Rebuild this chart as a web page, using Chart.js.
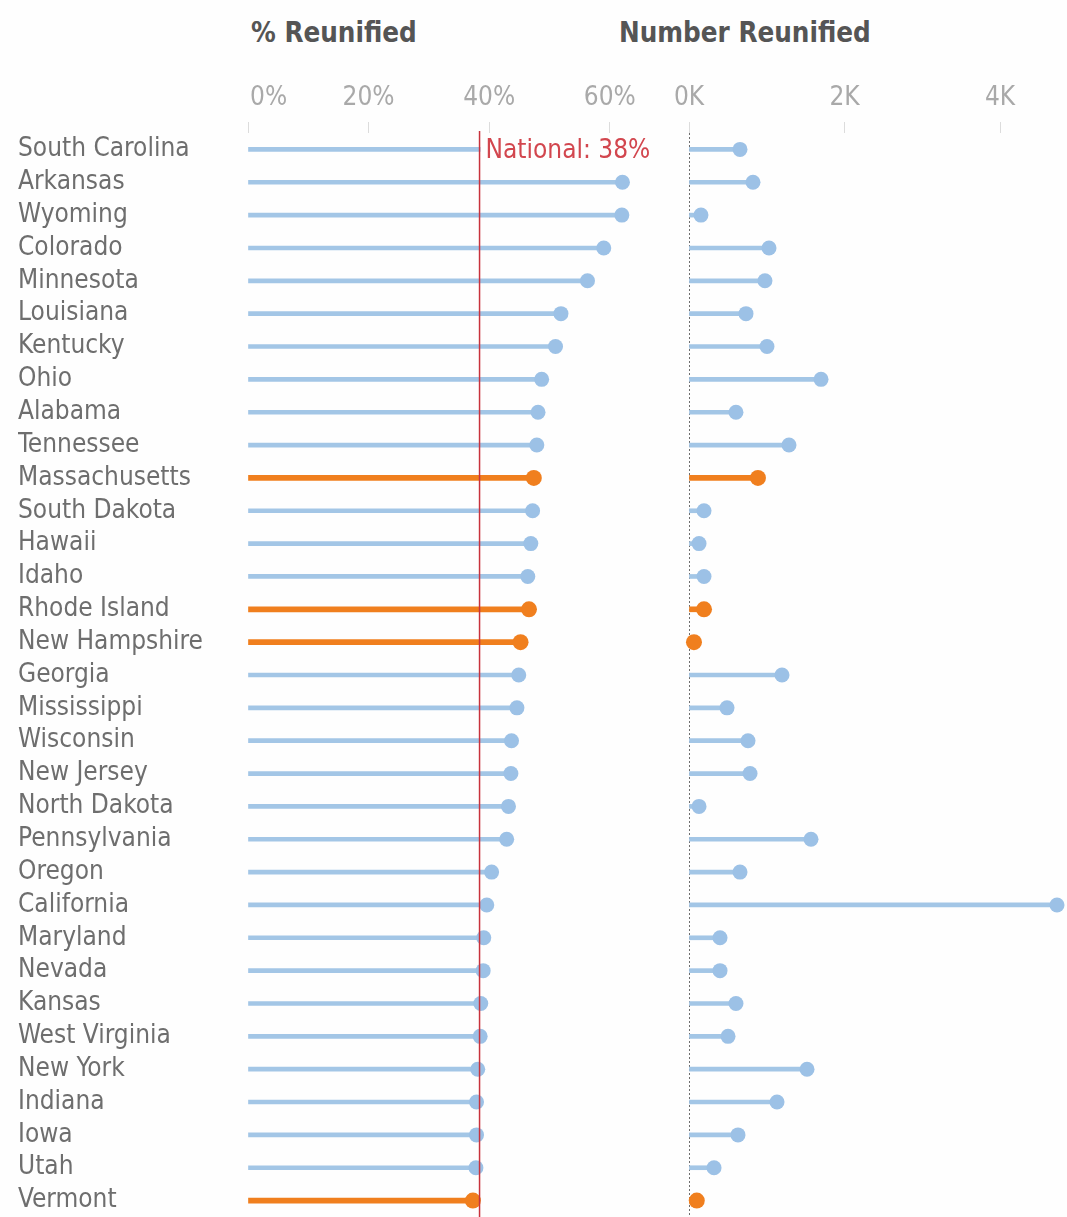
<!DOCTYPE html>
<html>
<head>
<meta charset="utf-8">
<script src="https://cdn.jsdelivr.net/npm/chart.js@4.4.1/dist/chart.umd.min.js"></script>
<style>
  html, body { margin: 0; padding: 0; background: #fefefe; }
  #wrap { position: relative; width: 1067px; height: 1217px; overflow: hidden; background: #fefefe; }
  .box { position: absolute; top: 0; height: 1217px; }
  #b1 { left: 0; width: 660px; }
  #b2 { left: 660px; width: 407px; }
  .title { position: absolute; top: 16px; font-family: 'DejaVu Sans Condensed', 'Liberation Sans Narrow', 'Liberation Sans', sans-serif; font-weight: bold; font-size: 27.5px; color: #555; white-space: nowrap; }
</style>
</head>
<body>
<div id="wrap">
  <div class="title" style="left:251px">% Reunified</div>
  <div class="title" style="left:619px">Number Reunified</div>
  <div class="box" id="b1"><canvas id="c1"></canvas></div>
  <div class="box" id="b2"><canvas id="c2"></canvas></div>
</div>
<script>
const STATES = ["South Carolina","Arkansas","Wyoming","Colorado","Minnesota","Louisiana","Kentucky","Ohio","Alabama","Tennessee","Massachusetts","South Dakota","Hawaii","Idaho","Rhode Island","New Hampshire","Georgia","Mississippi","Wisconsin","New Jersey","North Dakota","Pennsylvania","Oregon","California","Maryland","Nevada","Kansas","West Virginia","New York","Indiana","Iowa","Utah","Vermont"];
const PCT_REUNIFIED = [63.5,62.1,62.0,59.0,56.3,51.9,51.0,48.7,48.1,47.9,47.4,47.2,46.9,46.4,46.6,45.2,44.9,44.6,43.7,43.6,43.2,42.9,40.4,39.6,39.1,39.0,38.6,38.5,38.1,37.9,37.9,37.8,37.3];
const NUM_REUNIFIED = [656,823,154,1029,977,733,1003,1698,604,1286,887,193,129,193,193,64,1196,489,759,785,129,1569,656,4733,399,399,604,502,1518,1132,630,322,100];
const HIGHLIGHTED = ["Massachusetts","Rhode Island","New Hampshire","Vermont"];
const NATIONAL_PCT = 38.4;
const NATIONAL_LABEL = "National: 38%";
const PCT_TICKS = [0,20,40,60];
const PCT_TICK_LABELS = ["0%","20%","40%","60%"];
const NUM_TICKS = [0,2000,4000];
const NUM_TICK_LABELS = ["0K","2K","4K"];

const BLUE = '#a3c6e6';
const BLUE_DOT = '#9cc1e6';
const ORANGE = '#f07f1e';
const RED = '#c8323c';
const NARROW = "'DejaVu Sans Condensed', 'Liberation Sans Narrow', 'Liberation Sans', sans-serif";

const isHi = STATES.map(s => HIGHLIGHTED.includes(s));

function datasets(values) {
  return [
    {
      type: 'line', data: values, showLine: false, order: 0, clip: false,
      pointRadius: isHi.map(h => h ? 8 : 7.5),
      pointHoverRadius: isHi.map(h => h ? 8 : 7.5),
      pointBackgroundColor: isHi.map(h => h ? ORANGE : BLUE_DOT),
      pointBorderWidth: 0
    },
    {
      type: 'bar', data: values.map((v, i) => isHi[i] ? null : v), order: 1,
      backgroundColor: BLUE, barThickness: 4, grouped: false, borderSkipped: false
    },
    {
      type: 'bar', data: values.map((v, i) => isHi[i] ? v : null), order: 1,
      backgroundColor: ORANGE, barThickness: 5, grouped: false, borderSkipped: false
    }
  ];
}

function xLabelPlugin(labels, shiftFirst) {
  return {
    id: 'xLabels',
    afterDraw(chart) {
      const sc = chart.scales.x, ctx = chart.ctx;
      ctx.save();
      ctx.font = '26px ' + NARROW;
      ctx.fillStyle = '#a9a9a9';
      ctx.textBaseline = 'middle';
      sc.ticks.forEach((t, i) => {
        const x = sc.getPixelForValue(t.value);
        const txt = labels[i];
        const w = ctx.measureText(txt).width;
        if (shiftFirst && x - w / 2 < chart.chartArea.left - 4) {
          ctx.textAlign = 'left';
          ctx.fillText(txt, x + 2, 98);
        } else {
          ctx.textAlign = 'center';
          ctx.fillText(txt, x, 98);
        }
      });
      ctx.restore();
    }
  };
}

function xScale(min, max, ticks) {
  return {
    type: 'linear', position: 'top', min: min, max: max,
    afterBuildTicks: s => { s.ticks = ticks.map(v => ({ value: v })); },
    afterFit: s => { s.height = 133; s.paddingLeft = 0; s.paddingRight = 0; },
    ticks: { display: false },
    grid: { display: true, drawOnChartArea: false, drawTicks: true, tickLength: 11, color: '#dcdcdc', lineWidth: 1 },
    border: { display: false }
  };
}

const nationalPlugin = {
  id: 'national',
  afterDatasetsDraw(chart) {
    const ctx = chart.ctx, a = chart.chartArea;
    const x = chart.scales.x.getPixelForValue(NATIONAL_PCT);
    const y0 = chart.scales.y.getPixelForValue(0);
    ctx.save();
    ctx.fillStyle = '#fefefe';
    ctx.fillRect(x + 1, y0 - 14, a.right + 10 - x, 28);
    ctx.strokeStyle = RED;
    ctx.lineWidth = 1.5;
    ctx.beginPath();
    ctx.moveTo(x, a.top - 2);
    ctx.lineTo(x, a.bottom);
    ctx.stroke();
    ctx.font = '26px ' + NARROW;
    ctx.fillStyle = '#d2464e';
    ctx.textAlign = 'left';
    ctx.textBaseline = 'middle';
    ctx.fillText(NATIONAL_LABEL, x + 6, y0 + 2);
    ctx.restore();
  }
};

const zeroPlugin = {
  id: 'zero',
  beforeDatasetsDraw(chart) {
    const ctx = chart.ctx, a = chart.chartArea;
    const x = Math.round(chart.scales.x.getPixelForValue(0)) + 0.5;
    ctx.save();
    ctx.strokeStyle = '#6e6e6e';
    ctx.lineWidth = 1;
    ctx.setLineDash([2, 2]);
    ctx.beginPath();
    ctx.moveTo(x, a.top);
    ctx.lineTo(x, a.bottom);
    ctx.stroke();
    ctx.restore();
  }
};

const common = {
  responsive: true, maintainAspectRatio: false, animation: false,
  indexAxis: 'y',
  plugins: { legend: { display: false }, tooltip: { enabled: false } },
  events: []
};

new Chart(document.getElementById('c1'), {
  data: { labels: STATES, datasets: datasets(PCT_REUNIFIED) },
  options: Object.assign({}, common, {
    layout: { autoPadding: false, padding: { left: 18, right: 8, top: 0, bottom: 0 } },
    scales: {
      x: xScale(0, 67, PCT_TICKS),
      y: {
        type: 'category', position: 'left', offset: true,
        afterFit: s => { s.width = 230; s.paddingTop = 0; s.paddingBottom = 0; },
        ticks: { crossAlign: 'far', color: '#6e6e6e', font: { family: NARROW, size: 26 }, padding: 0, autoSkip: false },
        grid: { display: false }, border: { display: false }
      }
    }
  }),
  plugins: [xLabelPlugin(PCT_TICK_LABELS, true), nationalPlugin]
});

new Chart(document.getElementById('c2'), {
  data: { labels: STATES, datasets: datasets(NUM_REUNIFIED) },
  options: Object.assign({}, common, {
    layout: { autoPadding: false, padding: { left: 29, right: 2, top: 0, bottom: 0 } },
    scales: {
      x: xScale(0, 4836, NUM_TICKS),
      y: { type: 'category', display: false, offset: true }
    }
  }),
  plugins: [xLabelPlugin(NUM_TICK_LABELS, false), zeroPlugin]
});
</script>
</body>
</html>
